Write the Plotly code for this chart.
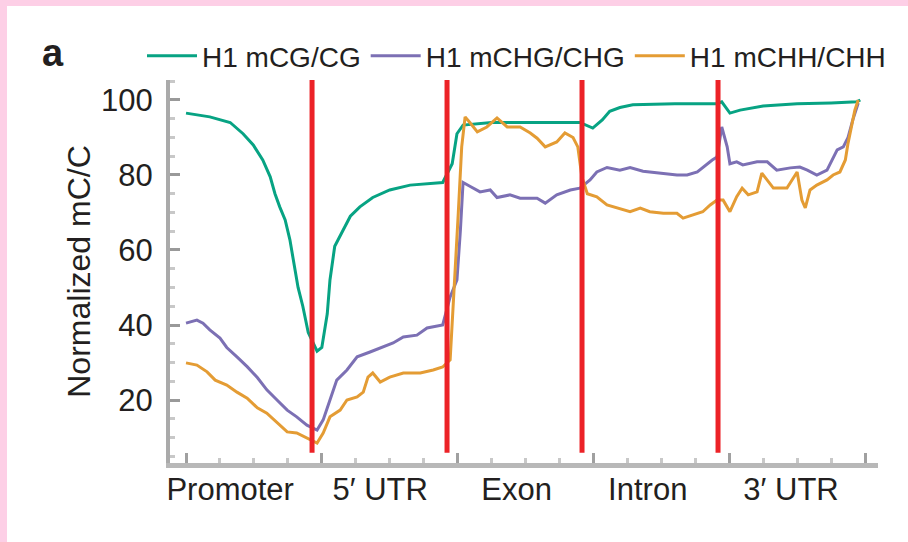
import plotly.graph_objects as go

# ---------------- data (x in % of feature bins, 0-100; y normalized mC/C) ----------------
cg_x = [0, 3.5, 6.5, 8.4, 9.9, 11.3, 12.4, 13.1, 13.8, 14.6, 15.3, 15.8, 16.5, 17.2, 18.0, 19.3,
        20.0, 20.8, 21.2, 21.9, 23.0, 24.2, 25.6, 27.5, 30.0, 33.0, 37.8, 39.2, 39.9, 40.8,
        45.0, 50.0, 55.0, 58.0, 59.9, 61.3, 62.4, 63.9, 65.8, 72.0, 78.2, 78.9, 80.1, 81.6,
        85.0, 90.0, 95.0, 98.8, 99.3]
cg_y = [96.5, 95.5, 94, 91, 88, 84, 79.5, 75, 71.5, 68, 62.7, 57, 50, 45, 38, 33,
        34, 43, 52, 61, 65, 69, 71.5, 74, 76, 77.3, 78, 83, 91, 93.3,
        94, 94, 93.8, 94, 92.5, 94.7, 97, 98, 98.7, 99, 99, 99.5, 96.5, 97.3,
        98.4, 99, 99.2, 99.5, 100]

chg_x = [0, 1.6, 2.5, 3.5, 5.0, 6.0, 7.5, 9.0, 10.5, 11.9, 13.4, 14.9, 16.3, 17.8, 19.3,
         20.2, 21.2, 22.2, 23.7, 25.2, 27.1, 28.6, 30.5, 32.0, 34.0, 35.5, 37.8, 38.9, 39.9,
         40.4, 40.8, 41.8, 43.3, 44.8, 45.8, 47.7, 49.2, 51.7, 52.9, 54.6, 56.6, 58.0, 59.5,
         60.5, 62.0, 63.9, 65.4, 67.3, 70.3, 72.3, 73.8, 75.3, 77.5, 78.2, 78.9, 79.7, 80.1,
         81.1, 82.0, 84.1, 85.6, 87.0, 89.0, 90.4, 91.5, 92.9, 94.4, 95.3, 95.9, 96.8, 97.5,
         98.2, 99.0]
chg_y = [40.5, 41.3, 40.5, 38.7, 36.5, 34, 31.5, 28.9, 26, 22.7, 20, 17.3, 15.5, 13.3, 12,
         14.7, 20, 25.3, 28, 31.5, 32.8, 33.9, 35.2, 36.8, 37.3, 39.2, 40, 47.5, 52,
         65, 78, 77, 75.5, 76, 74, 74.7, 73.8, 73.8, 72.5, 74.7, 76, 76.5, 78.7,
         80.8, 82, 81.3, 82, 81, 80.5, 80, 80, 80.8, 84, 84.8, 92.8, 87.5, 83,
         83.5, 82.7, 83.5, 83.5, 81.3, 81.9, 82.1, 81.3, 80, 81.3, 84.8, 86.7, 87.5, 90,
         94.7, 99.2]

chh_x = [0, 1.6, 3.1, 4.3, 6.0, 7.5, 9.0, 10.5, 11.9, 13.4, 14.9, 16.3, 17.8, 19.3,
         20.2, 21.2, 22.7, 23.7, 25.2, 26.1, 26.8, 27.5, 28.6, 30.0, 32.0, 34.5, 36.4, 37.8,
         38.9, 39.3, 40.1, 40.6, 41.1, 41.8, 42.9, 44.3, 45.8, 47.3, 49.2, 50.7, 51.7, 52.9,
         54.6, 55.8, 57.0, 57.7, 58.3, 59.1, 60.5, 62.0, 63.5, 65.4, 66.9, 68.3, 70.3, 72.3,
         73.2, 74.7, 76.1, 77.2, 78.2, 79.1, 80.1, 81.1, 81.9, 82.8, 84.1, 84.8, 85.6, 86.5,
         88.5, 90.0, 90.7, 91.2, 91.9, 92.9, 94.4, 95.3, 96.3, 97.1, 97.5, 98.1, 98.5, 99.0]
chh_y = [29.9, 29.3, 27.5, 25.3, 24, 22.1, 20.5, 17.9, 16.5, 13.9, 11.5, 11.2, 9.9, 8.5,
         11.2, 15.5, 17.3, 20, 20.8, 22.1, 26.1, 27.2, 24.8, 26.1, 27.2, 27.2, 28, 28.8,
         30.7, 43, 70, 87.5, 95.5, 94, 91.5, 92.8, 95.2, 92.8, 92.8, 91.2, 89.8, 87.5,
         88.8, 91.2, 90, 87.5, 79.5, 75, 74.2, 72, 71.2, 70.2, 71.2, 70.2, 69.8, 69.8,
         68.5, 69.3, 70.2, 72, 73.3, 73.3, 70.2, 74.2, 76.5, 74.7, 75.5, 80.5, 78.7, 76.5,
         76.5, 80.8, 73.3, 71.2, 76, 77.3, 78.7, 80, 80.8, 84, 88.5, 93.8, 97.3, 100]

series_names = ["H1 mCG/CG", "H1 mCHG/CHG", "H1 mCHH/CHH"]
series_colors = ["#07a383", "#7c70b4", "#e49c34"]

region_labels = ["Promoter", "5\u2032 UTR", "Exon", "Intron", "3\u2032 UTR"]
region_label_x = [6.5, 28.6, 48.7, 68.0, 89.1]
boundary_x = [18.56, 38.44, 58.32, 78.35]
boundary_y = [5.9, 105.33]

y_ticks = [20, 40, 60, 80, 100]
x_major_ticks = [0, 20, 40, 60, 80, 100]

X_RANGE = [-2.36, 101.91]
Y_RANGE = [3.2, 105.33]

FONT = "Liberation Sans, Arial, Helvetica, sans-serif"
TXT = "#231f20"

fig = go.Figure()
for xs, ys, nm, col in zip([cg_x, chg_x, chh_x], [cg_y, chg_y, chh_y], series_names, series_colors):
    fig.add_trace(go.Scatter(x=xs, y=ys, mode="lines", name=nm,
                             line=dict(color=col, width=3)))

# invisible trace so the label axis is drawn
fig.add_trace(go.Scatter(x=[region_label_x[0]], y=[50], xaxis="x2", mode="markers",
                         marker=dict(opacity=0), showlegend=False, hoverinfo="skip"))

for bx in boundary_x:
    fig.add_shape(type="line", xref="x", yref="y", x0=bx, x1=bx,
                  y0=boundary_y[0], y1=boundary_y[1],
                  line=dict(color="#ec2227", width=5))

# pink frame strips (top & left)
fig.add_shape(type="rect", xref="paper", yref="paper", x0=-0.3, x1=(7 - 170) / 708,
              y0=-0.3, y1=1.3, fillcolor="#fdcfe6", line=dict(width=0), layer="above")
fig.add_shape(type="rect", xref="paper", yref="paper", x0=-0.3, x1=1.1,
              y0=(463 - 6) / 383, y1=1.3, fillcolor="#fdcfe6", line=dict(width=0), layer="above")

fig.add_annotation(text="<b>a</b>", xref="paper", yref="paper",
                   x=(40 - 170) / 708, y=(463 - 53) / 383, xanchor="left", yanchor="middle",
                   showarrow=False, font=dict(family=FONT, size=38, color=TXT))

fig.update_layout(
    width=908, height=542,
    margin=dict(l=170, r=30, t=80, b=79),
    paper_bgcolor="white", plot_bgcolor="white",
    font=dict(family=FONT, color=TXT),
    showlegend=True,
    legend=dict(orientation="h", x=(142 - 170) / 708, xanchor="left",
                y=(463 - 56) / 383, yanchor="middle", itemwidth=50,
                font=dict(family=FONT, size=28, color=TXT),
                bgcolor="rgba(0,0,0,0)", borderwidth=0),
    xaxis=dict(range=X_RANGE, showgrid=False, zeroline=False,
               showline=True, linecolor="#b8b8b8", linewidth=5,
               tickmode="array", tickvals=x_major_ticks, ticks="inside", ticklen=10,
               tickwidth=3, tickcolor="#a0a0a0", showticklabels=False,
               minor=dict(dtick=5, tick0=0, ticks="inside", ticklen=5, tickwidth=3,
                          tickcolor="#c8c8c8")),
    xaxis2=dict(range=X_RANGE, overlaying="x", side="bottom", anchor="y",
                showgrid=False, zeroline=False, showline=False,
                tickmode="array", tickvals=region_label_x, ticktext=region_labels,
                ticks="", tickfont=dict(family=FONT, size=31, color=TXT),
                ticklabelstandoff=5),
    yaxis=dict(range=Y_RANGE, showgrid=False, zeroline=False,
               showline=True, linecolor="#aaaaaa", linewidth=4,
               tickmode="array", tickvals=y_ticks, ticks="inside", ticklen=10,
               tickwidth=3, tickcolor="#999999",
               tickfont=dict(family=FONT, size=31, color=TXT), ticklabelstandoff=7,
               minor=dict(dtick=5, tick0=0, ticks="inside", ticklen=5, tickwidth=3,
                          tickcolor="#c8c8c8"),
               title=dict(text="Normalized mC/C", standoff=2,
                          font=dict(family=FONT, size=32, color=TXT))),
)

fig.write_html("out.html")
